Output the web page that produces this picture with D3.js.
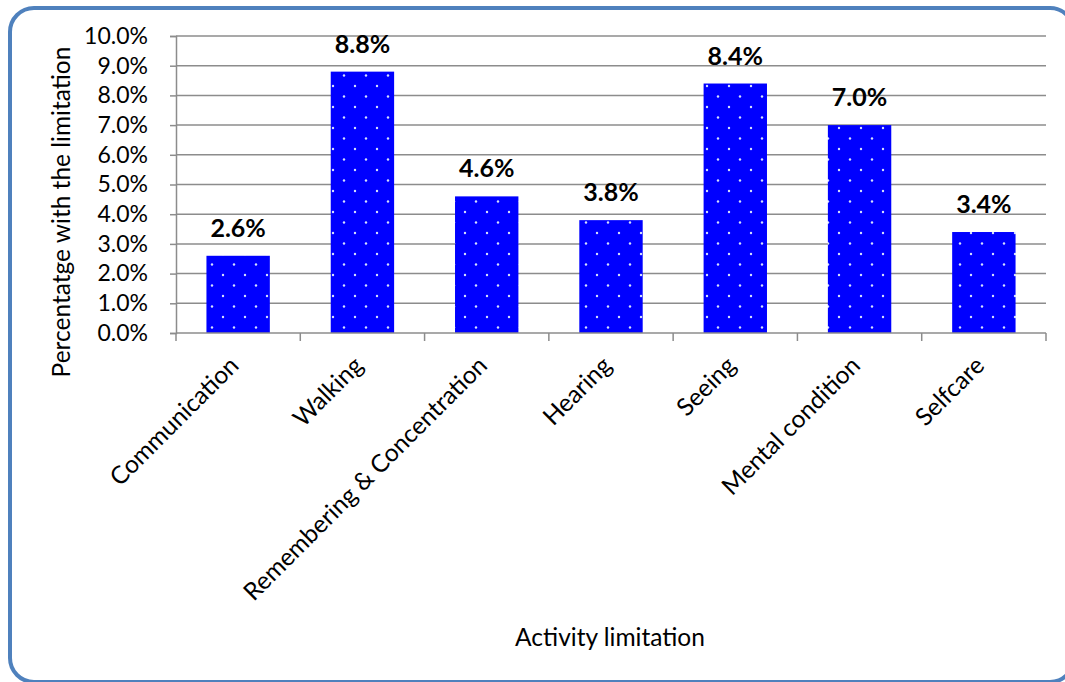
<!DOCTYPE html>
<html lang="en">
<head>
<meta charset="UTF-8">
<title>Activity limitation</title>
<script src="https://d3js.org/d3.v7.min.js"></script>
<style>
    body { margin: 0; background: #fff; }
    svg text { font-family: Lato, "Open Sans", sans-serif; fill: #000; }
</style>
</head>
<body>
<svg id="chart" width="1065" height="682"></svg>
<script>
    // data
    const categories = ["Communication", "Walking", "Remembering & Concentration", "Hearing", "Seeing", "Mental condition", "Selfcare"];
    const values = [2.6, 8.8, 4.6, 3.8, 8.4, 7.0, 3.4];
    const yTicks = [0, 1, 2, 3, 4, 5, 6, 7, 8, 9, 10];

    const svg = d3.select("#chart");
    const margin = {left: 176, right: 1046, top: 36, bottom: 333};

    // rounded frame
    svg.append("rect")
        .attr("x", 10).attr("y", 8)
        .attr("width", 1064).attr("height", 674)
        .attr("rx", 24).attr("ry", 24)
        .attr("fill", "none")
        .attr("stroke", "#4f81bd")
        .attr("stroke-width", 4);

    // dotted fill pattern for the bars
    const pat = svg.append("defs").append("pattern")
        .attr("id", "dots")
        .attr("patternUnits", "userSpaceOnUse")
        .attr("width", 22).attr("height", 21);
    pat.append("rect").attr("width", 22).attr("height", 21).attr("fill", "#0000ff");
    pat.append("circle").attr("cx", 3).attr("cy", 2).attr("r", 1.2).attr("fill", "#d6e0ff");
    pat.append("circle").attr("cx", 14).attr("cy", 12.5).attr("r", 1.2).attr("fill", "#d6e0ff");

    const x = d3.scaleBand().domain(categories).range([margin.left, margin.right]).paddingInner(0.49).paddingOuter(0.245);
    const y = d3.scaleLinear().domain([0, 10]).range([margin.bottom, margin.top]);

    // gridlines
    svg.append("g").selectAll("line")
        .data(yTicks.slice(1))
        .join("line")
        .attr("x1", margin.left).attr("x2", margin.right)
        .attr("y1", d => y(d)).attr("y2", d => y(d))
        .attr("stroke", "#8c8c8c").attr("stroke-width", 1.5);

    // bars
    svg.append("g").selectAll("rect")
        .data(values)
        .join("rect")
        .attr("x", (d, i) => x(categories[i]))
        .attr("y", d => y(d))
        .attr("width", x.bandwidth())
        .attr("height", d => y(0) - y(d))
        .attr("fill", "url(#dots)");

    // value labels
    svg.append("g").selectAll("text")
        .data(values)
        .join("text")
        .attr("x", (d, i) => x(categories[i]) + x.bandwidth() / 2)
        .attr("y", d => y(d) - 19)
        .attr("text-anchor", "middle")
        .attr("font-size", 25)
        .attr("font-weight", "bold")
        .text(d => d.toFixed(1) + "%");

    // y axis
    const yAxis = svg.append("g")
        .attr("transform", `translate(${margin.left},0)`)
        .call(d3.axisLeft(y).tickValues(yTicks).tickSize(6).tickPadding(22).tickFormat(d => d.toFixed(1) + "%"));
    yAxis.select(".domain").attr("stroke", "#8c8c8c").attr("stroke-width", 1.5);
    yAxis.selectAll(".tick line").attr("stroke", "#8c8c8c").attr("stroke-width", 1.5);
    yAxis.selectAll(".tick text").attr("font-size", 23).attr("font-family", "Lato, sans-serif").attr("fill", "#000");

    // x axis line and boundary ticks
    svg.append("line")
        .attr("x1", margin.left).attr("x2", margin.right)
        .attr("y1", y(0)).attr("y2", y(0))
        .attr("stroke", "#8c8c8c").attr("stroke-width", 1.5);
    svg.append("g").selectAll("line")
        .data(d3.range(categories.length + 1))
        .join("line")
        .attr("x1", i => margin.left + i * x.step())
        .attr("x2", i => margin.left + i * x.step())
        .attr("y1", y(0)).attr("y2", y(0) + 8)
        .attr("stroke", "#8c8c8c").attr("stroke-width", 1.5);

    // rotated category labels
    svg.append("g").selectAll("text")
        .data(categories)
        .join("text")
        .attr("transform", d => `translate(${x(d) + x.bandwidth() / 2 + 2},${y(0) + 34}) rotate(-45)`)
        .attr("text-anchor", "end")
        .attr("font-size", 24.5)
        .text(d => d);

    // axis titles
    svg.append("text")
        .attr("transform", "translate(70,212) rotate(-90)")
        .attr("text-anchor", "middle")
        .attr("font-size", 24.5)
        .text("Percentatge with the limitation");

    svg.append("text")
        .attr("x", 610).attr("y", 646)
        .attr("text-anchor", "middle")
        .attr("font-size", 24.5)
        .text("Activity limitation");
</script>
</body>
</html>
